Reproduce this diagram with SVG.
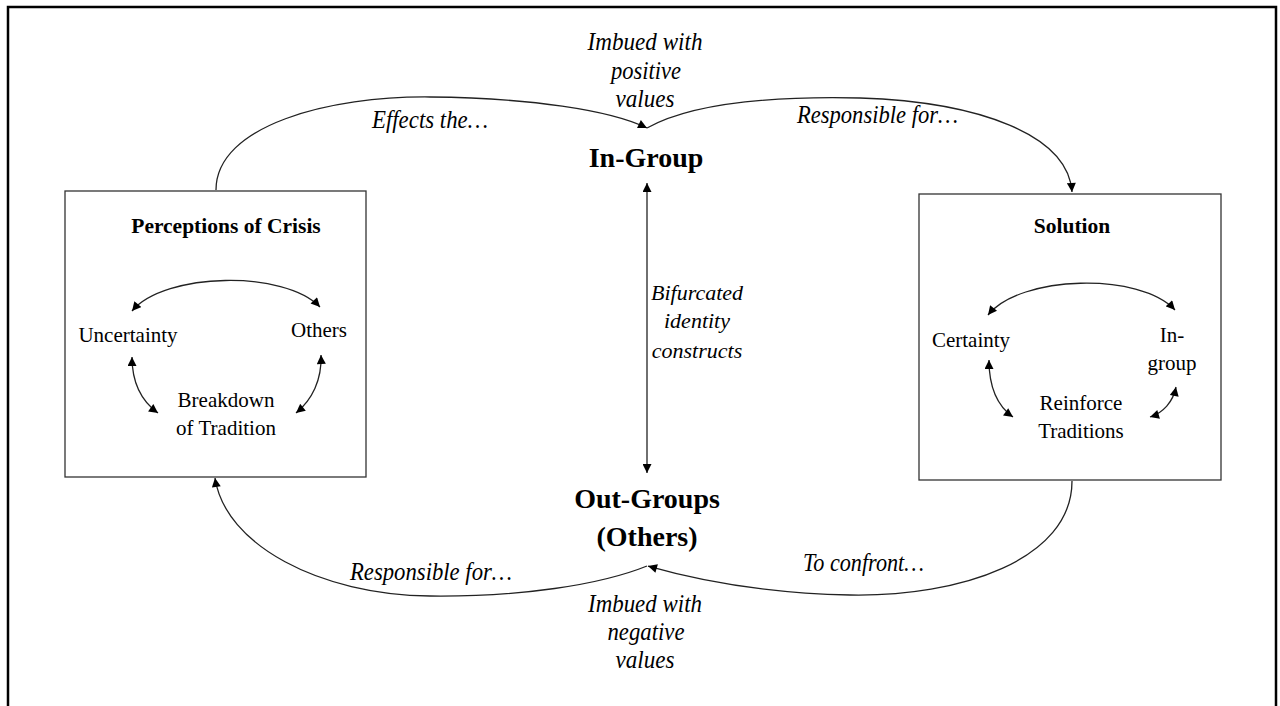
<svg xmlns="http://www.w3.org/2000/svg" width="1280" height="706" viewBox="0 0 1280 706">
<defs>
<style>
.frame{fill:none;stroke:#000;stroke-width:2.5}
.box{fill:#fff;stroke:#333;stroke-width:1.3}
.ln{fill:none;stroke:#222;stroke-width:1.3}
.t{font-family:"Liberation Serif","Times New Roman",serif;fill:#000}
.b{font-weight:bold}
.i{font-style:italic}
.c{text-anchor:middle}
</style>
<marker id="ah" viewBox="0 0 10 10" refX="10" refY="5" markerWidth="10" markerHeight="9" markerUnits="userSpaceOnUse" orient="auto-start-reverse">
<path d="M0,0 L10,5 L0,10 z" fill="#000"/>
</marker>
</defs>
<rect width="1280" height="706" fill="#fff"/>
<path class="frame" d="M8,720 L8,7 L1276,7 L1276,720"/>

<g id="connectors">
<path class="ln" d="M216,190 C216,125 330,96 430,97 C530,98 610,110 647,128" marker-end="url(#ah)"/>
<path class="ln" d="M647,128 C690,104 770,96 860,98 C980,102 1068,135 1072,192" marker-end="url(#ah)"/>
<path class="ln" d="M1072,481 C1072,560 960,597 850,595 C760,593 690,578 648,566" marker-end="url(#ah)"/>
<path class="ln" d="M647,566 C600,585 520,597 430,596 C320,595 225,545 215,478" marker-end="url(#ah)"/>
<path class="ln" d="M647,183 L647,473" marker-start="url(#ah)" marker-end="url(#ah)"/>
</g>

<g id="in-group">
<text class="t b c" x="646" y="167" font-size="28">In-Group</text>
<text class="t i c" font-size="25" x="645" y="50" textLength="115" lengthAdjust="spacingAndGlyphs">Imbued with</text>
<text class="t i c" font-size="25" x="646" y="79" textLength="70" lengthAdjust="spacingAndGlyphs">positive</text>
<text class="t i c" font-size="25" x="645" y="107" textLength="59" lengthAdjust="spacingAndGlyphs">values</text>
</g>

<g id="out-groups">
<text class="t b c" x="647" y="508" font-size="28">Out-Groups</text>
<text class="t b c" x="647" y="546" font-size="28">(Others)</text>
<text class="t i c" font-size="25" x="645" y="612" textLength="114" lengthAdjust="spacingAndGlyphs">Imbued with</text>
<text class="t i c" font-size="25" x="646" y="640" textLength="77" lengthAdjust="spacingAndGlyphs">negative</text>
<text class="t i c" font-size="25" x="645" y="668" textLength="59" lengthAdjust="spacingAndGlyphs">values</text>
</g>

<g id="connector-labels">
<text class="t i" font-size="25" x="372" y="128" textLength="116" lengthAdjust="spacingAndGlyphs">Effects the…</text>
<text class="t i" font-size="25" x="797" y="123" textLength="161" lengthAdjust="spacingAndGlyphs">Responsible for…</text>
<text class="t i" font-size="25" x="350" y="580" textLength="162" lengthAdjust="spacingAndGlyphs">Responsible for…</text>
<text class="t i" font-size="25" x="803" y="571" textLength="121" lengthAdjust="spacingAndGlyphs">To confront…</text>
<text class="t i c" font-size="22" x="697" y="300">Bifurcated</text>
<text class="t i c" font-size="22" x="697" y="328">identity</text>
<text class="t i c" font-size="22" x="697" y="358">constructs</text>
</g>

<g id="perceptions-of-crisis">
<rect class="box" x="65" y="191" width="301" height="286"/>
<text class="t b c" x="226" y="233" font-size="21.5">Perceptions of Crisis</text>
<text class="t c" x="128" y="342" font-size="21">Uncertainty</text>
<text class="t c" x="319" y="337" font-size="21">Others</text>
<text class="t c" x="226" y="407" font-size="21">Breakdown</text>
<text class="t c" x="226" y="435" font-size="21">of Tradition</text>
<path class="ln" d="M132,311 C165,272 285,270 320,307" marker-start="url(#ah)" marker-end="url(#ah)"/>
<path class="ln" d="M132,357 C132,380 140,400 158,413" marker-start="url(#ah)" marker-end="url(#ah)"/>
<path class="ln" d="M321,355 C322,380 312,400 296,413" marker-start="url(#ah)" marker-end="url(#ah)"/>
</g>

<g id="solution">
<rect class="box" x="919" y="194" width="302" height="286"/>
<text class="t b c" x="1072" y="233" font-size="21.5">Solution</text>
<text class="t c" x="971" y="347" font-size="21">Certainty</text>
<text class="t c" x="1172" y="342" font-size="21">In-</text>
<text class="t c" x="1172" y="370" font-size="21">group</text>
<text class="t c" x="1081" y="410" font-size="21">Reinforce</text>
<text class="t c" x="1081" y="438" font-size="21">Traditions</text>
<path class="ln" d="M988,315 C1020,275 1140,272 1175,310" marker-start="url(#ah)" marker-end="url(#ah)"/>
<path class="ln" d="M989,360 C989,385 996,405 1013,417" marker-start="url(#ah)" marker-end="url(#ah)"/>
<path class="ln" d="M1176,387 C1173,402 1163,413 1150,417" marker-start="url(#ah)" marker-end="url(#ah)"/>
</g>
</svg>
